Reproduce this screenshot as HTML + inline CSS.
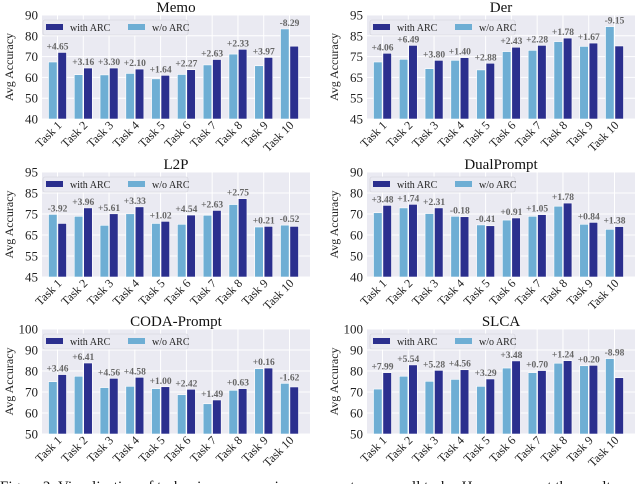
<!DOCTYPE html>
<html><head><meta charset="utf-8"><style>
html,body{margin:0;padding:0;background:#fff;}
svg{display:block;font-family:"Liberation Serif",serif;}
</style></head><body>
<svg id="fig" width="640" height="484" viewBox="0 0 640 484"></svg>
<script>
const categories = ["Task 1","Task 2","Task 3","Task 4","Task 5","Task 6","Task 7","Task 8","Task 9","Task 10"];
const memoWo   = [67.4,61.3,61.2,61.9,59.3,61.4,66.0,71.2,65.6,83.3];
const memoWith = [72.0,64.5,64.5,64.0,61.0,63.7,68.6,73.5,69.6,75.0];
const memoLbl  = ["+4.65","+3.16","+3.30","+2.10","+1.64","+2.27","+2.63","+2.33","+3.97","-8.29"];
const derWo    = [72.4,73.7,69.2,73.2,68.6,77.4,78.0,82.2,79.9,89.4];
const derWith  = [76.6,80.4,73.2,74.5,71.8,79.5,80.4,83.9,81.5,80.1];
const derLbl   = ["+4.06","+6.49","+3.80","+1.40","+2.88","+2.43","+2.28","+1.78","+1.67","-9.15"];
const l2pWo    = [74.8,73.9,69.6,75.1,70.5,70.1,74.4,79.5,68.8,69.7];
const l2pWith  = [70.5,77.9,75.1,78.4,71.5,74.5,76.7,82.3,69.1,69.1];
const l2pLbl   = ["-3.92","+3.96","+5.61","+3.33","+1.02","+4.54","+2.63","+2.75","+0.21","-0.52"];
const dualWo   = [70.6,72.9,70.2,68.9,64.8,67.1,68.9,73.7,65.1,62.7];
const dualWith = [74.1,74.6,72.9,68.7,64.4,68.1,69.7,75.2,66.0,64.0];
const dualLbl  = ["+3.48","+1.74","+2.31","-0.18","-0.41","+0.91","+1.05","+1.78","+0.84","+1.38"];
const codaWo   = [74.9,77.5,72.1,72.7,71.6,68.7,64.4,70.8,81.1,74.1];
const codaWith = [78.3,83.8,76.5,77.0,72.5,71.3,66.2,71.6,81.4,72.4];
const codaLbl  = ["+3.46","+6.41","+4.56","+4.58","+1.00","+2.42","+1.49","+0.63","+0.16","-1.62"];
const slcaWo   = [71.4,77.5,75.1,76.0,72.7,81.4,79.2,83.7,82.5,85.9];
const slcaWith = [79.2,82.9,80.3,80.6,76.2,84.8,80.2,84.9,82.7,76.8];
const slcaLbl  = ["+7.99","+5.54","+5.28","+4.56","+3.29","+3.48","+0.70","+1.24","+0.20","-8.98"];
const memoTicks = [40,50,60,70,80,90];
const derTicks  = [45,55,65,75,85,95];
const l2pTicks  = [45,55,65,75,85,95];
const dualTicks = [40,50,60,70,80,90];
const codaTicks = [50,60,70,80,90,100];
const slcaTicks = [50,60,70,80,90,100];

const NS="http://www.w3.org/2000/svg";
const svg=document.getElementById('fig');
function mk(tag,attrs,parent){const e=document.createElementNS(NS,tag);for(const k in attrs)e.setAttribute(k,attrs[k]);(parent||svg).appendChild(e);return e;}

const panels=[
 {title:"Memo",slug:"memo",L:42,R:310,T:15,B:119,ticks:memoTicks,wo:memoWo,w:memoWith,lbl:memoLbl},
 {title:"Der",slug:"der",L:367,R:635,T:15,B:119,ticks:derTicks,wo:derWo,w:derWith,lbl:derLbl},
 {title:"L2P",slug:"l2p",L:42,R:310,T:172,B:277,ticks:l2pTicks,wo:l2pWo,w:l2pWith,lbl:l2pLbl},
 {title:"DualPrompt",slug:"dualprompt",L:367,R:635,T:172,B:277,ticks:dualTicks,wo:dualWo,w:dualWith,lbl:dualLbl},
 {title:"CODA-Prompt",slug:"coda-prompt",L:42,R:310,T:329,B:434,ticks:codaTicks,wo:codaWo,w:codaWith,lbl:codaLbl},
 {title:"SLCA",slug:"slca",L:367,R:635,T:329,B:434,ticks:slcaTicks,wo:slcaWo,w:slcaWith,lbl:slcaLbl}
];
const DARK="#2b2f8e", LIGHT="#6eaed4";

panels.forEach(p=>{
  const g=mk('g',{});
  
  
  const lo=p.ticks[0], hi=p.ticks[p.ticks.length-1];
  const y=v=>p.B-(v-lo)/(hi-lo)*(p.B-p.T);
  const step=(p.R-p.L-36)/9;
  const xc=i=>p.L+15.5+i*step;
  const bg=mk('rect',{x:p.L,y:p.T,width:p.R-p.L,height:p.B-p.T,fill:"#eaeaf2"},g);
  
  
  p.ticks.forEach(t=>{
    mk('line',{x1:p.L,x2:p.R,y1:y(t),y2:y(t),stroke:"#fff","stroke-width":1},g);
    const tl=mk('text',{x:p.L-4,y:y(t)+4.5,"text-anchor":"end","font-size":13,fill:"#222"},g);
    tl.textContent=t;
    
    
  });
  categories.forEach((c,i)=>{
    mk('line',{x1:xc(i),x2:xc(i),y1:p.T,y2:p.B,stroke:"#fff","stroke-width":1},g);
  });
  const bw=8.6;
  categories.forEach((c,i)=>{
    const b1=mk('rect',{x:xc(i)-bw-0.4,y:y(p.wo[i]),width:bw,height:p.B-y(p.wo[i]),fill:LIGHT,stroke:"#fff","stroke-width":0.6},g);
    
    
    const b2=mk('rect',{x:xc(i)+0.4,y:y(p.w[i]),width:bw,height:p.B-y(p.w[i]),fill:DARK,stroke:"#fff","stroke-width":0.6},g);
    
    
    const vl=mk('text',{x:xc(i),y:y(Math.max(p.wo[i],p.w[i]))-3,"text-anchor":"middle","font-size":9.5,"font-weight":"bold",fill:"#666"},g);
    vl.textContent=p.lbl[i];
    
    
    const xl=mk('text',{transform:`translate(${xc(i)+5},${p.B+7}) rotate(-45)`,"text-anchor":"end","font-size":12,fill:"#222"},g);
    xl.textContent=c;
    
    
  });
  const ti=mk('text',{x:(p.L+p.R)/2,y:p.T-3,"text-anchor":"middle","font-size":15,fill:"#111"},g);
  ti.textContent=p.title;
  
  
  const yl=mk('text',{transform:`translate(${p.L-29},${(p.T+p.B)/2}) rotate(-90)`,"text-anchor":"middle","font-size":12,fill:"#222"},g);
  yl.textContent="Avg Accuracy";
  
  
  const lg=mk('g',{},g);
  
  
  const lx=p.L+(p.slug==='memo'||p.slug==='l2p'||p.slug==='coda-prompt'?0:2);
  mk('rect',{x:lx+1,y:p.T+5,width:145,height:15,fill:"#eaeaf2",stroke:"#d0d0d8","stroke-width":0.6,rx:2},lg);
  const e1=mk('g',{},lg);
  
  
  mk('rect',{x:lx+4,y:p.T+9,width:17,height:6,fill:DARK},e1);
  const t1=mk('text',{x:lx+28,y:p.T+16,"font-size":10,fill:"#222"},e1);t1.textContent="with ARC";
  const e2=mk('g',{},lg);
  
  
  mk('rect',{x:lx+86,y:p.T+9,width:17,height:6,fill:LIGHT},e2);
  const t2=mk('text',{x:lx+110,y:p.T+16,"font-size":10,fill:"#222"},e2);t2.textContent="w/o ARC";
});
const cap=mk('text',{x:0,y:491,"font-size":15,fill:"#111"});
cap.textContent="Figure 2: Visualization of task-wise accuracy improvements across all tasks. Here we report the results";


</script>
</body></html>
